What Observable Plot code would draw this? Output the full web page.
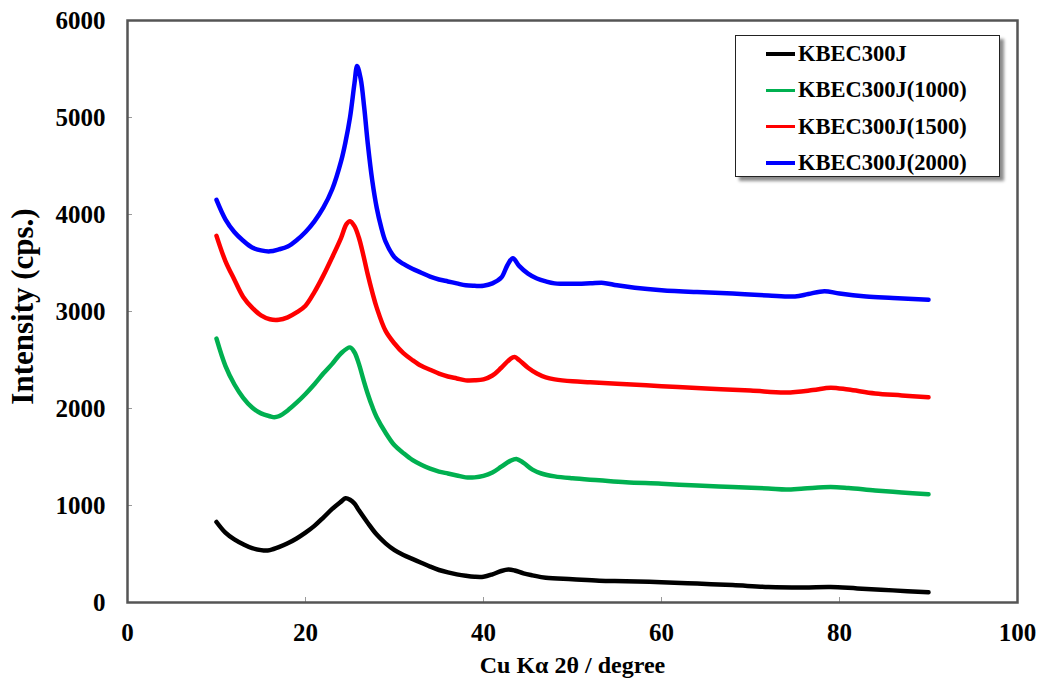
<!DOCTYPE html>
<html><head><meta charset="utf-8">
<script src="https://cdn.jsdelivr.net/npm/d3@7"></script>
<script src="https://cdn.jsdelivr.net/npm/@observablehq/plot@0.6"></script>
<style>
body{margin:0;background:#fff;}
#wrap{position:relative;width:1045px;height:692px;font-family:"Liberation Serif","Times New Roman",serif;}
#legend{position:absolute;left:735px;top:35px;width:263px;height:140px;border:1.5px solid #222;background:#fff;box-shadow:4px 4px 3px rgba(0,0,0,0.45);}
.row{position:absolute;left:0;height:30px;display:flex;align-items:center;font-weight:bold;font-size:22.5px;color:#000;}
.sw{width:29px;height:3.5px;margin-left:30px;margin-right:3px;}
</style></head>
<body><div id="wrap"><div id="chart"></div><div id="legend"></div></div>
<script>
const seriesNames = ["KBEC300J", "KBEC300J(1000)", "KBEC300J(1500)", "KBEC300J(2000)"];
const seriesColors = ["#000000", "#00B050", "#FF0000", "#0000FF"];
const xTicks = [0, 20, 40, 60, 80, 100];
const yTicks = [0, 1000, 2000, 3000, 4000, 5000, 6000];

// KBEC300J (black)
const x0 = [10,11,12,13,14,15,15.5,16,17,18,19,20,21,22,23,24,24.5,25,25.5,26,27,28,29,30,31,32,33,34,35,36,37,38,39,40,41,42,42.8,43.5,44.5,45.5,47,50,53,56,60,64,68,72,76,79,82,86,90];
const y0 = [830,720,650,600,560,540,535,540,570,610,660,720,790,875,965,1040,1075,1060,1020,950,820,700,610,540,490,450,410,370,335,310,290,275,265,265,290,325,340,330,300,280,255,240,225,220,210,195,180,160,155,160,145,125,105];

// KBEC300J(1000) (green)
const x1 = [10,11,12,13,14,15,16,16.5,17,18,19,20,21,22,23,24,25,25.5,26,26.5,27,27.5,28,29,30,31,32,33,34,35,36,37,38,39,40,41,42,43,43.7,44.5,45.5,46.5,48,50,53,56,60,64,68,72,74,76,79,81,84,87,90];
const y1 = [2720,2440,2250,2110,2010,1950,1920,1910,1920,1980,2060,2150,2250,2360,2460,2570,2630,2580,2460,2300,2150,2020,1910,1750,1620,1540,1470,1420,1380,1350,1330,1310,1290,1290,1305,1340,1400,1460,1480,1440,1370,1330,1300,1280,1260,1240,1225,1205,1190,1175,1165,1175,1190,1180,1155,1135,1115];

// KBEC300J(1500) (red)
const x2 = [10,11,12,13,14,15,16,17,18,19,20,21,22,23,24,24.6,25,25.5,26,26.5,27,27.5,28,29,30,31,32,33,34,35,36,37,38,39,40,41,42,43,43.5,44,45,46,47,48,50,52,55,60,65,70,74,77,79,81,84,87,90];
const y2 = [3780,3520,3330,3150,3040,2960,2920,2915,2940,2990,3060,3200,3370,3560,3760,3900,3930,3880,3760,3580,3380,3200,3040,2800,2670,2570,2500,2440,2400,2360,2330,2310,2290,2290,2300,2340,2420,2510,2530,2500,2420,2360,2320,2300,2280,2270,2255,2230,2205,2185,2165,2190,2215,2195,2155,2135,2115];

// KBEC300J(2000) (blue)
const x3 = [10,11,12,13,14,15,16,17,18,19,20,21,22,23,24,24.5,25,25.5,25.8,26.2,26.6,27,27.5,28,28.5,29,30,31,32,33,34,35,36,37,38,39,40,41,42,42.7,43.3,44,45,46,47,48,50,52,53.5,55,57,60,64,68,72,75,76.5,78.3,80,83,86,90];
const y3 = [4150,3950,3820,3730,3660,3630,3620,3640,3670,3735,3820,3930,4070,4260,4550,4750,5000,5350,5530,5400,5100,4730,4350,4070,3870,3720,3560,3490,3440,3400,3360,3330,3310,3290,3270,3265,3265,3290,3350,3480,3550,3470,3390,3340,3310,3290,3285,3290,3295,3270,3245,3220,3200,3185,3165,3155,3180,3210,3185,3155,3140,3120];

const xs = [x0, x1, x2, x3];
const ys = [y0, y1, y2, y3];
const rows = [];
seriesNames.forEach((name, s) => {
  xs[s].forEach((x, i) => rows.push({series: name, x, y: ys[s][i]}));
});

const chart = Plot.plot({
  width: 1045,
  height: 692,
  marginLeft: 127,
  marginRight: 28,
  marginTop: 20,
  marginBottom: 90,
  style: {fontFamily: "'Liberation Serif', 'Times New Roman', serif", fontSize: "25px", fontWeight: "bold", color: "#000", background: "#fff"},
  x: {domain: [0, 100], label: null},
  y: {domain: [0, 6000], label: null},
  color: {domain: seriesNames, range: seriesColors},
  marks: [
    Plot.line(rows, {x: "x", y: "y", z: "series", stroke: "series", strokeWidth: 4.5, curve: "catmull-rom"}),
    Plot.axisX(xTicks, {tickSize: 5, dy: -5, fill: "none", stroke: "#9a9a9a", label: null}),
    Plot.axisY(yTicks, {tickSize: 5, dx: 5, fill: "none", stroke: "#9a9a9a", label: null}),
    Plot.axisX(xTicks, {tickSize: 0, tickPadding: 21, tickFormat: "d", label: null, fill: "#000"}),
    Plot.axisY(yTicks, {tickSize: 0, tickPadding: 22, tickFormat: "d", label: null, fill: "#000"}),
    Plot.frame({stroke: "#555", strokeWidth: 2.5}),
    Plot.text(["Cu Kα 2θ / degree"], {text: d => d, frameAnchor: "bottom", dy: 70, fontSize: 24, fontWeight: "bold", fill: "#000"}),
    Plot.text(["Intensity (cps.)"], {text: d => d, frameAnchor: "left", textAnchor: "middle", dx: -104, dy: -5, rotate: -90, fontSize: 31, fontWeight: "bold", fill: "#000"})
  ]
});
document.getElementById("chart").appendChild(chart);

const legend = document.getElementById("legend");
seriesNames.forEach((name, i) => {
  const r = document.createElement("div");
  r.className = "row";
  r.style.top = (3 + i * 36.3) + "px";
  const sw = document.createElement("span");
  sw.className = "sw";
  sw.style.background = seriesColors[i];
  const t = document.createElement("span");
  t.textContent = name;
  r.appendChild(sw);
  r.appendChild(t);
  legend.appendChild(r);
});
</script>
</body></html>
